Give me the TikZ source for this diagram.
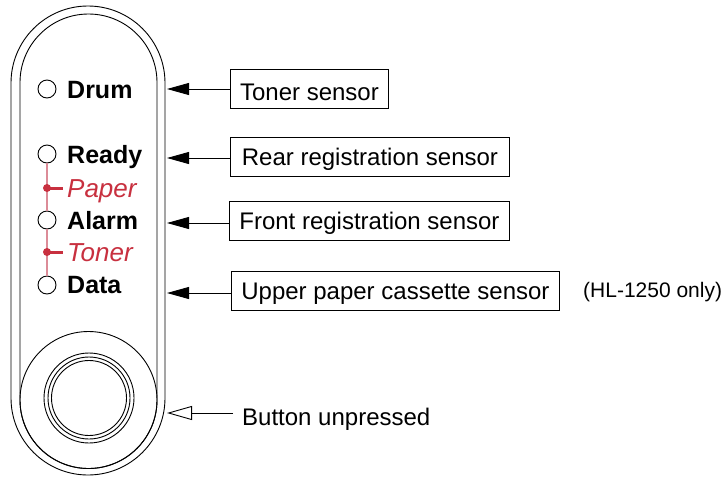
\documentclass[tikz,border=0pt]{standalone}
\usepackage{fontspec}
\setmainfont{Liberation Sans}
\usetikzlibrary{arrows.meta}
\definecolor{ledred}{HTML}{C8303F}
\definecolor{linered}{HTML}{DC8C98}
\begin{document}
\begin{tikzpicture}[x=1pt,y=-1pt,
  outline/.style={line width=0.9pt},
  led/.style={circle,draw,fill=white,line width=0.9pt,minimum size=18pt,inner sep=0pt},
  ledlabel/.style={anchor=base west,font=\fontsize{25}{30}\selectfont\bfseries,inner sep=0pt},
  modelabel/.style={anchor=base west,font=\fontsize{26}{30}\selectfont\itshape,text=ledred,inner sep=0pt},
  reddot/.style={circle,fill=ledred,minimum size=8pt,inner sep=0pt},
  redlink/.style={linered,line width=2pt},
  redstub/.style={ledred,line width=3pt},
  sensorbox/.style={draw,line width=0.9pt,anchor=west,minimum height=39pt,inner sep=0pt,
    text height=17.2pt,text depth=0pt,font=\fontsize{24}{28}\selectfont},
  plain/.style={anchor=base west,inner sep=0pt,font=\fontsize{24}{28}\selectfont},
  pointer/.style={line width=0.9pt,-{Triangle[length=22pt,width=12pt]}},
  openpointer/.style={line width=0.9pt,-{Triangle[open,length=25pt,width=14pt]}}
]
\useasboundingbox (0,0) rectangle (727,477);
\fill[white] (0,0) rectangle (727,477);

% housing
\draw[outline] (11,398) -- (11,83) arc[start angle=180,end angle=360,radius=77]
  -- (165,398) arc[start angle=0,end angle=180,radius=77] -- cycle;
\draw[outline] (20,400) -- (20,82.5) arc[start angle=180,end angle=360,radius=68.5]
  -- (157,400) arc[start angle=0,end angle=180,radius=68.5] -- cycle;

% button
\draw[outline] (88.5,400) circle[radius=68.5];
\draw[outline] (89,398) circle[radius=45];
\draw[outline] (89,398) circle[radius=41];
\draw[outline] (89,398) circle[radius=37.5];

% LEDs
\node[led] (ledDrum) at (47,89) {};
\node[led] (ledReady) at (47,154) {};
\node[led] (ledAlarm) at (47,220) {};
\node[led] (ledData) at (47,285) {};

\draw[redlink] (ledReady.south) -- (ledAlarm.north);
\draw[redlink] (ledAlarm.south) -- (ledData.north);

\node[reddot] (dotPaper) at (47,188) {};
\node[reddot] (dotToner) at (47,252) {};
\coordinate (stubPaper) at (63,188);
\coordinate (stubToner) at (63,252);
\draw[redstub] (dotPaper.center) -- (stubPaper);
\draw[redstub] (dotToner.center) -- (stubToner);

\node[ledlabel] (lblDrum) at (67,98) {Drum};
\node[ledlabel] (lblReady) at (67,163) {Ready};
\node[ledlabel] (lblAlarm) at (67,229) {Alarm};
\node[ledlabel] (lblData) at (67,293) {Data};
\node[modelabel] (lblPaper) at (67,197) {Paper};
\node[modelabel] (lblToner) at (67,261) {Toner};

% sensor boxes
\node[sensorbox,minimum width=158pt,text height=23pt] (boxToner) at (230,88.5) {Toner sensor};
\node[sensorbox,minimum width=279pt] (boxRear) at (230,156.5) {Rear registration sensor};
\node[sensorbox,minimum width=280pt] (boxFront) at (229,220.5) {Front registration sensor};
\node[sensorbox,minimum width=328pt] (boxUpper) at (231,290.5) {Upper paper cassette sensor};

\coordinate (tipToner) at (167,89);
\coordinate (tipRear) at (167,158);
\coordinate (tipFront) at (167,223);
\coordinate (tipUpper) at (167,293);
\draw[pointer] (boxToner.west |- tipToner) -- (tipToner);
\draw[pointer] (boxRear.west |- tipRear) -- (tipRear);
\draw[pointer] (boxFront.west |- tipFront) -- (tipFront);
\draw[pointer] (boxUpper.west |- tipUpper) -- (tipUpper);

\node[anchor=base west,inner sep=0pt,font=\fontsize{21}{25}\selectfont] (note) at (583,297) {(HL-1250 only)};

% button label
\node[plain] (btnLabel) at (242,425) {Button unpressed};
\coordinate (btnTail) at (233,413);
\coordinate (btnTip) at (167,413);
\draw[openpointer] (btnTail) -- (btnTip);
\end{tikzpicture}
\end{document}
